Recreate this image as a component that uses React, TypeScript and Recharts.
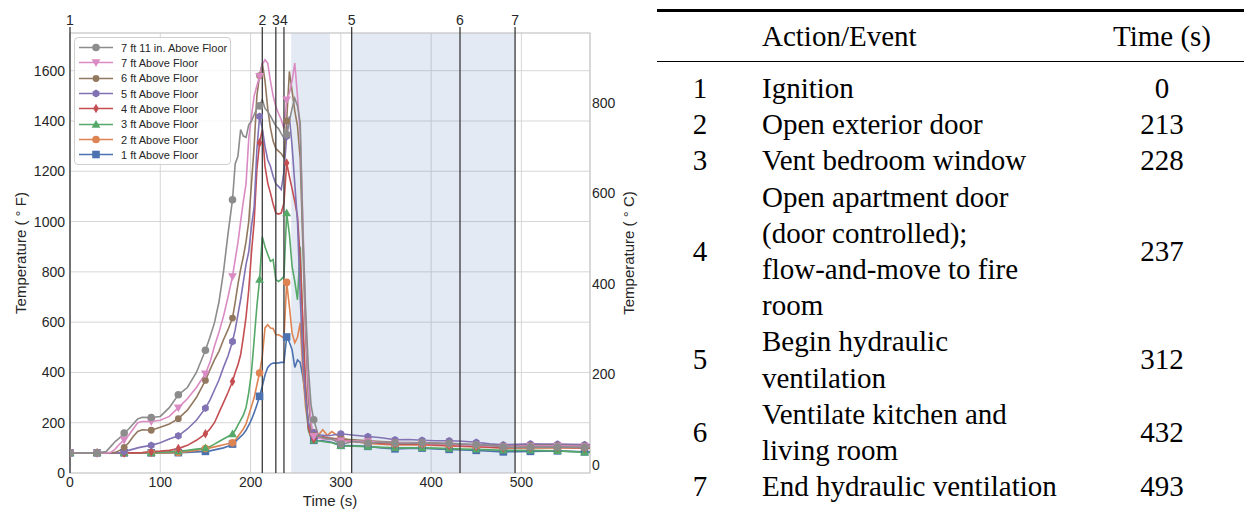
import React from 'react';
import {
  LineChart,
  Line,
  XAxis,
  YAxis,
  CartesianGrid,
  ReferenceLine,
  ReferenceArea,
  Legend,
  Label,
} from 'recharts';

// ---------- data ----------
const TIMES = [
  0, 15, 30, 40, 45, 50, 55, 60, 65, 70,
  75, 80, 90, 100, 110, 120, 130, 140, 150, 155,
  160, 165, 170, 175, 180, 183, 186, 189, 192, 195,
  198, 201, 204, 207, 210, 213, 216, 219, 222, 225,
  228, 231, 234, 237, 240, 243, 246, 249, 252, 255,
  258, 261, 264, 267, 270, 275, 280, 285, 290, 300,
  315, 330, 345, 360, 375, 390, 405, 420, 435, 450,
  465, 480, 495, 510, 525, 540, 555, 570, 576,
];

const T_1FT = [
  80, 80, 80, 80, 80, 80, 80, 80, 80, 80,
  80, 80, 80, 80, 80, 81, 82, 84, 86, 88,
  92, 96, 100, 106, 115, 125, 135, 145, 155, 170,
  190, 212, 240, 270, 305, 345, 390, 420, 432, 437,
  437, 438, 440, 440, 541, 520, 490, 420, 450, 440,
  380, 300, 200, 150, 130, 128, 128, 125, 122, 110,
  108, 106, 100, 96, 98, 99, 96, 94, 92, 90,
  87, 84, 85, 86, 87, 88, 86, 84, 84,
];
const T_2FT = [
  80, 80, 80, 80, 80, 80, 80, 80, 80, 80,
  80, 80, 80, 80, 81, 82, 85, 90, 97, 100,
  104, 108, 112, 116, 120, 130, 145, 160, 175, 195,
  230, 265, 300, 350, 398, 464, 577, 590, 577, 575,
  550, 550, 544, 537, 758, 663, 557, 518, 540, 597,
  400, 260, 185, 150, 160, 150, 172, 150, 165, 140,
  125, 118, 115, 112, 113, 112, 110, 108, 106, 104,
  102, 100, 100, 100, 100, 100, 100, 100, 100,
];
const T_3FT = [
  80, 80, 80, 80, 80, 80, 80, 80, 80, 80,
  80, 80, 80, 82, 84, 86, 90, 95, 99, 105,
  115, 125, 135, 145, 155, 170, 190, 210, 230, 260,
  320, 400, 530, 663, 769, 940, 900, 870, 842, 849,
  769, 762, 770, 782, 1034, 950, 822, 762, 689, 900,
  550, 300, 170, 140, 130, 128, 125, 122, 120, 108,
  107, 105, 102, 100, 100, 100, 99, 97, 95, 94,
  92, 90, 90, 90, 89, 88, 85, 82, 82,
];
const T_4FT = [
  80, 80, 80, 80, 80, 80, 80, 80, 80, 80,
  80, 81, 85, 87, 90, 97, 110, 130, 156, 175,
  200, 240, 280, 320, 364, 400, 430, 470, 540, 620,
  729, 876, 1000, 1206, 1313, 1366, 1220, 1153, 1114, 1070,
  1034, 1030, 1034, 1074, 1233, 1180, 1130, 1080, 1020, 850,
  600, 350, 180, 140, 135, 140, 145, 140, 138, 130,
  125, 122, 118, 115, 116, 115, 112, 110, 108, 106,
  103, 100, 101, 102, 102, 103, 101, 100, 100,
];
const T_5FT = [
  80, 80, 80, 80, 80, 80, 80, 85, 90, 95,
  100, 104, 110, 120, 135, 148, 175, 210, 258, 290,
  330, 370, 420, 465, 523, 570, 630, 690, 760, 830,
  880, 980, 1060, 1286, 1418, 1370, 1299, 1246, 1220, 1180,
  1150, 1140, 1127, 1200, 1339, 1418, 1300, 1150, 1000, 700,
  450, 300, 200, 165, 160, 152, 150, 148, 150, 156,
  150, 145, 140, 132, 133, 130, 128, 128, 126, 122,
  116, 112, 114, 116, 115, 115, 114, 113, 113,
];
const T_6FT = [
  80, 80, 80, 80, 80, 82, 90, 102, 120, 145,
  165, 172, 170, 182, 195, 216, 250, 300, 368, 410,
  450, 484, 530, 570, 616, 680, 750, 810, 860, 920,
  1000, 1150, 1300, 1500, 1580, 1630, 1560, 1450, 1373, 1320,
  1290, 1280, 1270, 1253, 1400, 1597, 1520, 1440, 1380, 1250,
  900, 550, 300, 180, 150, 145, 140, 138, 138, 135,
  132, 128, 125, 122, 121, 120, 119, 117, 114, 112,
  110, 108, 108, 110, 110, 110, 109, 108, 108,
];
const T_7FT = [
  80, 80, 80, 80, 82, 95, 115, 132, 150, 175,
  200, 205, 205, 210, 225, 260, 295, 340, 395, 440,
  504, 560, 623, 700, 782, 850, 915, 1000, 1080, 1150,
  1330, 1418, 1500, 1540, 1578, 1624, 1644, 1630, 1560, 1500,
  1458, 1430, 1405, 1370, 1485, 1510, 1560, 1630, 1498, 1350,
  1000, 600, 350, 200, 146, 140, 135, 133, 132, 128,
  127, 125, 122, 120, 120, 118, 117, 115, 112, 110,
  108, 106, 106, 108, 107, 108, 107, 106, 106,
];
const T_7FT11 = [
  80, 80, 80, 85, 105, 125, 140, 159, 175, 195,
  215, 222, 221, 225, 260, 311, 340, 400, 488, 540,
  597, 680, 800, 950, 1087, 1230, 1260, 1366, 1340, 1335,
  1385, 1400, 1425, 1450, 1460, 1485, 1450, 1438, 1420, 1400,
  1380, 1370, 1350, 1332, 1346, 1400, 1450, 1491, 1460, 1393,
  950, 650, 420, 270, 212, 150, 140, 135, 135, 115,
  125, 119, 122, 119, 118, 121, 118, 118, 115, 113,
  110, 104, 102, 104, 103, 104, 103, 102, 102,
];

const X_TICKS = [0, 100, 200, 300, 400, 500];
const Y_TICKS_F = [0, 200, 400, 600, 800, 1000, 1200, 1400, 1600];
const Y_TICKS_C = [0, 200, 400, 600, 800];
const X_MAX = 576;
const Y_MAX_F = 1750;

const EVENT_IDS = ['1', '2', '3', '4', '5', '6', '7'];
const EVENT_TIMES = [0, 213, 228, 237, 312, 432, 493];
const EVENT_TEXT = [
  ['Ignition'],
  ['Open exterior door'],
  ['Vent bedroom window'],
  ['Open apartment door', '(door controlled);', 'flow-and-move to fire', 'room'],
  ['Begin hydraulic', 'ventilation'],
  ['Ventilate kitchen and', 'living room'],
  ['End hydraulic ventilation'],
];
const SHADES = [
  [245, 288],
  [312, 493],
];

// series config (draw order: 1 ft first, 7 ft 11 in. last)
const SERIES = [
  { key: 's1', name: '1 ft Above Floor', color: '#4C72B0', shape: 'square', values: T_1FT },
  { key: 's2', name: '2 ft Above Floor', color: '#DD8452', shape: 'circle', values: T_2FT },
  { key: 's3', name: '3 ft Above Floor', color: '#55A868', shape: 'triUp', values: T_3FT },
  { key: 's4', name: '4 ft Above Floor', color: '#C44E52', shape: 'diamond', values: T_4FT },
  { key: 's5', name: '5 ft Above Floor', color: '#8172B3', shape: 'hexagon', values: T_5FT },
  { key: 's6', name: '6 ft Above Floor', color: '#937860', shape: 'smallCircle', values: T_6FT },
  { key: 's7', name: '7 ft Above Floor', color: '#DA8BC3', shape: 'triDown', values: T_7FT },
  { key: 's8', name: '7 ft 11 in. Above Floor', color: '#8C8C8C', shape: 'circle', values: T_7FT11 },
];

const DATA = TIMES.map((t, i) => {
  const row: Record<string, number> = { t };
  SERIES.forEach((s) => {
    row[s.key] = s.values[i];
  });
  return row;
});

const fToC = (f: number) => (f - 32) / 1.8;

// ---------- markers ----------
function MarkerShape({ shape, cx, cy, color }: { shape: string; cx: number; cy: number; color: string }) {
  switch (shape) {
    case 'square':
      return <rect x={cx - 3.8} y={cy - 3.8} width={7.6} height={7.6} fill={color} />;
    case 'triUp':
      return <polygon points={`${cx},${cy - 4.6} ${cx + 4.4},${cy + 3.2} ${cx - 4.4},${cy + 3.2}`} fill={color} />;
    case 'triDown':
      return <polygon points={`${cx},${cy + 4.6} ${cx + 4.4},${cy - 3.2} ${cx - 4.4},${cy - 3.2}`} fill={color} />;
    case 'diamond':
      return <polygon points={`${cx},${cy - 4.8} ${cx + 2.8},${cy} ${cx},${cy + 4.8} ${cx - 2.8},${cy}`} fill={color} />;
    case 'hexagon': {
      const r = 3.9;
      const pts = [0, 1, 2, 3, 4, 5]
        .map((k) => {
          const a = (Math.PI / 3) * k - Math.PI / 2;
          return `${cx + r * Math.cos(a)},${cy + r * Math.sin(a)}`;
        })
        .join(' ');
      return <polygon points={pts} fill={color} />;
    }
    case 'smallCircle':
      return <circle cx={cx} cy={cy} r={3.4} fill={color} />;
    default:
      return <circle cx={cx} cy={cy} r={3.8} fill={color} />;
  }
}

const makeDot = (shape: string, color: string) => (props: any) => {
  const { cx, cy, payload, index } = props;
  if (payload == null || payload.t % 30 !== 0 || cx == null || cy == null) {
    return <g key={`d-${index}`} />;
  }
  return (
    <g key={`d-${index}`}>
      <MarkerShape shape={shape} cx={cx} cy={cy} color={color} />
    </g>
  );
};

// ---------- legend ----------
function LegendBox() {
  const rows = [...SERIES].reverse();
  return (
    <div
      style={{
        boxSizing: 'border-box',
        width: 157,
        height: 128,
        border: '1px solid #d0d0d0',
        borderRadius: 4,
        background: 'rgba(255,255,255,0.85)',
        paddingTop: 2,
        fontFamily: '"Liberation Sans", Arial, sans-serif',
        textAlign: 'left',
      }}
    >
      {rows.map((s) => (
        <div key={s.key} style={{ display: 'flex', alignItems: 'center', height: 15.33 }}>
          <svg width={40} height={15} style={{ display: 'block', marginLeft: 1 }}>
            <line x1={3} y1={7.5} x2={37} y2={7.5} stroke={s.color} strokeWidth={1.6} />
            <MarkerShape shape={s.shape} cx={20} cy={7.5} color={s.color} />
          </svg>
          <span style={{ fontSize: 11, color: '#262626', marginLeft: 5, whiteSpace: 'nowrap' }}>{s.name}</span>
        </div>
      ))}
    </div>
  );
}

// ---------- table ----------
const LINE_H = 36.2;
const SERIF = '"Liberation Serif", "Times New Roman", serif';

function EventTable() {
  return (
    <div style={{ position: 'absolute', left: 0, top: 0, width: 1244, height: 511, fontFamily: SERIF, fontSize: 29, color: '#000' }}>
      <div style={{ position: 'absolute', left: 657, top: 8.5, width: 587, height: 3, background: '#000' }} />
      <div style={{ position: 'absolute', left: 762, top: 18, height: LINE_H, lineHeight: `${LINE_H}px`, whiteSpace: 'nowrap' }}>
        Action/Event
      </div>
      <div style={{ position: 'absolute', left: 1100, width: 124, top: 18, height: LINE_H, lineHeight: `${LINE_H}px`, textAlign: 'center', whiteSpace: 'nowrap' }}>
        Time (s)
      </div>
      <div style={{ position: 'absolute', left: 657, top: 61, width: 587, height: 1.4, background: '#000' }} />
      <div style={{ position: 'absolute', left: 0, top: 70, width: 1244 }}>
        {EVENT_IDS.map((id, i) => {
          const lines = EVENT_TEXT[i];
          const h = lines.length * LINE_H;
          const cell: React.CSSProperties = {
            position: 'absolute',
            top: 0,
            height: h,
            display: 'flex',
            alignItems: 'center',
            lineHeight: `${LINE_H}px`,
            whiteSpace: 'nowrap',
          };
          return (
            <div key={id} style={{ position: 'relative', height: h }}>
              <div style={{ ...cell, left: 657, width: 86, justifyContent: 'center' }}>{id}</div>
              <div style={{ ...cell, left: 762, display: 'block' }}>
                {lines.map((ln, k) => (
                  <div key={k} style={{ height: LINE_H }}>{ln}</div>
                ))}
              </div>
              <div style={{ ...cell, left: 1100, width: 124, justifyContent: 'center' }}>{EVENT_TIMES[i]}</div>
            </div>
          );
        })}
      </div>
    </div>
  );
}

// ---------- chart ----------
const TEXT = '#262626';
const EVENT_STROKE = '#3a3a3a';

export default function App() {
  return (
    <div style={{ position: 'absolute', left: 0, top: 0, width: 1244, height: 511, background: '#fff', overflow: 'hidden' }}>
      <div style={{ position: 'absolute', left: 0, top: 0, fontFamily: '"Liberation Sans", Arial, sans-serif' }}>
        <LineChart width={650} height={511} data={DATA} margin={{ top: 0, right: 0, bottom: 0, left: 0 }}>
          <CartesianGrid yAxisId="f" stroke="#d6d6d6" strokeWidth={1} />
          {SHADES.map(([a, b], i) => (
            <ReferenceArea key={`sh${i}`} yAxisId="f" x1={a} x2={b} y1={0} y2={Y_MAX_F} fill="#4C72B0" fillOpacity={0.15} stroke="none" />
          ))}
          {SERIES.map((s) => (
            <Line
              key={s.key}
              yAxisId="f"
              type="linear"
              dataKey={s.key}
              name={s.name}
              stroke={s.color}
              strokeWidth={1.6}
              dot={makeDot(s.shape, s.color)}
              activeDot={false}
              isAnimationActive={false}
            />
          ))}
          {EVENT_TIMES.map((t, i) => (
            <ReferenceLine key={`ev${i}`} yAxisId="f" x={t} stroke={EVENT_STROKE} strokeWidth={1.3} />
          ))}
          <ReferenceArea yAxisId="f" x1={0} x2={X_MAX} y1={0} y2={Y_MAX_F} fill="none" stroke="#cccccc" strokeWidth={1.2} />
          <XAxis
            dataKey="t"
            type="number"
            domain={[0, X_MAX]}
            ticks={X_TICKS}
            interval={0}
            height={38}
            axisLine={false}
            tickLine={false}
            tickSize={4}
            tickMargin={0}
            tick={{ fontSize: 14, fill: TEXT }}
            allowDataOverflow
          >
            <Label
              content={(p: any) => {
                const vb = p.viewBox || {};
                return (
                  <text x={vb.x + vb.width / 2} y={vb.y + 33} textAnchor="middle" fontSize={15} fill={TEXT}>
                    Time (s)
                  </text>
                );
              }}
            />
          </XAxis>
          <XAxis
            xAxisId="top"
            dataKey="t"
            orientation="top"
            type="number"
            domain={[0, X_MAX]}
            ticks={EVENT_TIMES}
            interval={0}
            height={33}
            axisLine={false}
            tickLine={{ stroke: EVENT_STROKE, strokeWidth: 1.3 }}
            tickSize={6}
            tickMargin={2}
            tickFormatter={(v: number) => EVENT_IDS[EVENT_TIMES.indexOf(v)] ?? ''}
            tick={{ fontSize: 14, fill: TEXT }}
            allowDataOverflow
          />
          <YAxis
            yAxisId="f"
            type="number"
            domain={[0, Y_MAX_F]}
            ticks={Y_TICKS_F}
            interval={0}
            width={70}
            axisLine={false}
            tickLine={false}
            tickSize={5}
            tickMargin={0}
            tick={{ fontSize: 14, fill: TEXT }}
            allowDataOverflow
          >
            <Label
              content={(p: any) => {
                const vb = p.viewBox || {};
                const x = vb.x + 20;
                const y = vb.y + vb.height / 2;
                return (
                  <text x={x} y={y} transform={`rotate(-90, ${x}, ${y})`} textAnchor="middle" dominantBaseline="central" fontSize={15} fill={TEXT}>
                    Temperature ( ° F)
                  </text>
                );
              }}
            />
          </YAxis>
          <YAxis
            yAxisId="c"
            orientation="right"
            type="number"
            domain={[fToC(0), fToC(Y_MAX_F)]}
            ticks={Y_TICKS_C}
            interval={0}
            width={60}
            axisLine={false}
            tickLine={false}
            tickSize={2}
            tickMargin={0}
            tick={{ fontSize: 14, fill: TEXT }}
            allowDataOverflow
          >
            <Label
              content={(p: any) => {
                const vb = p.viewBox || {};
                const x = vb.x + 38;
                const y = vb.y + vb.height / 2;
                return (
                  <text x={x} y={y} transform={`rotate(-90, ${x}, ${y})`} textAnchor="middle" dominantBaseline="central" fontSize={15} fill={TEXT}>
                    Temperature ( ° C)
                  </text>
                );
              }}
            />
          </YAxis>
          <Legend
            layout="horizontal"
            verticalAlign="middle"
            align="center"
            wrapperStyle={{ left: 74, top: 37, width: 157, height: 128 }}
            content={() => <LegendBox />}
          />
        </LineChart>
      </div>
      <EventTable />
    </div>
  );
}
